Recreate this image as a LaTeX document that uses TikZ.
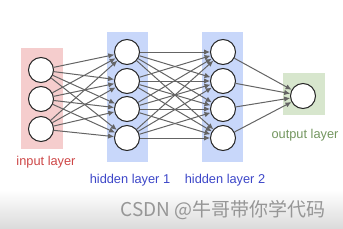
\documentclass[tikz,border=0pt]{standalone}
\usepackage{fontspec}
\setmainfont{Liberation Sans}
\newfontfamily\cjkfont{Noto Sans CJK SC}
\usetikzlibrary{arrows.meta}
\definecolor{inred}{RGB}{245,205,205}
\definecolor{hidblue}{RGB}{200,215,250}
\definecolor{outgreen}{RGB}{215,230,205}
\definecolor{redtxt}{RGB}{205,70,70}
\definecolor{bluetxt}{RGB}{60,70,200}
\definecolor{greentxt}{RGB}{115,150,95}
\definecolor{edgegray}{RGB}{100,100,100}
\definecolor{wmgray}{RGB}{150,150,150}
\tikzset{
  neuron/.style={circle,draw=black!85,line width=1pt,fill=white,minimum size=25pt,inner sep=0pt},
  conn/.style={draw=edgegray,line width=1pt,-{Latex[length=6pt,width=5.5pt]}},
  lbl/.style={font=\fontsize{12.8}{14}\selectfont,inner sep=0pt}
}
\begin{document}
\begin{tikzpicture}[x=1pt,y=-1pt]
\useasboundingbox (0,0) rectangle (343,228);
\shade[top color=white,bottom color=black!14] (0,190) rectangle (343,228);
% layer backgrounds
\fill[inred] (21,48) rectangle (63,149);
\fill[hidblue] (107,32) rectangle (148,162);
\fill[hidblue] (202,32) rectangle (243,162);
\fill[outgreen] (283,73) rectangle (325,115);
% neurons
\foreach \i/\y in {1/70,2/99,3/129} \node[neuron] (i\i) at (41,\y) {};
\foreach \i/\y in {1/52,2/81,3/109,4/138} {
  \node[neuron] (a\i) at (127,\y) {};
  \node[neuron] (b\i) at (223,\y) {};
}
\node[neuron] (o1) at (303,96) {};
% connections
\foreach \i in {1,2,3} \foreach \j in {1,2,3,4} \draw[conn] (i\i) -- (a\j);
\foreach \i in {1,2,3,4} \foreach \j in {1,2,3,4} \draw[conn] (a\i) -- (b\j);
\foreach \i in {1,2,3,4} \draw[conn] (b\i) -- (o1);
% labels
\node[lbl,text=redtxt] (lin) at (46,162) {input layer};
\node[lbl,text=bluetxt] (lh1) at (130,180) {hidden layer 1};
\node[lbl,text=bluetxt] (lh2) at (225,180) {hidden layer 2};
\node[lbl,text=greentxt] (lout) at (305,135) {output layer};
\node[inner sep=0pt,text=wmgray,font=\cjkfont\fontsize{19}{21}\selectfont] (wm) at (223,210) {CSDN @牛哥带你学代码};
\end{tikzpicture}
\end{document}
